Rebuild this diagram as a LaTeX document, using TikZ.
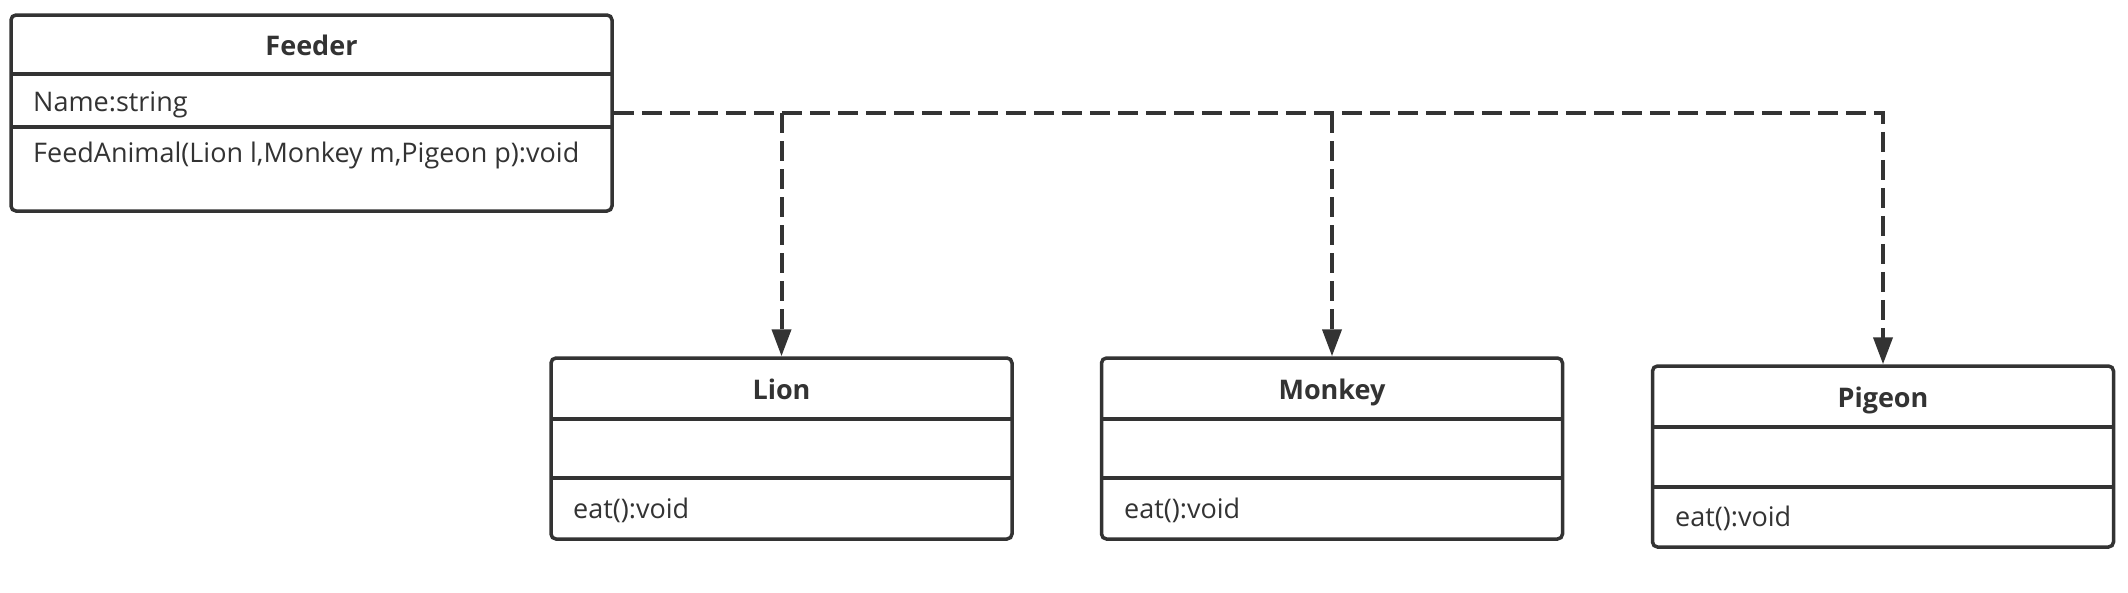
\documentclass[tikz,border=0pt]{standalone}
\usepackage{fontspec}
\setmainfont{Open Sans}
\usetikzlibrary{arrows.meta}
\definecolor{ink}{HTML}{333333}
\tikzset{
  classbox/.style={draw=ink, line width=3.5pt, rounded corners=5pt, fill=white, inner sep=0pt},
  divider/.style={draw=ink, line width=3.5pt},
  titletext/.style={text=ink, font=\fontsize{27}{31}\selectfont\bfseries, inner sep=0pt, anchor=base},
  membertext/.style={text=ink, font=\fontsize{27}{31}\selectfont, inner sep=0pt, anchor=base west},
  dep/.style={draw=ink, line width=4pt, dash pattern=on 20pt off 8pt, -{Triangle[length=27pt,width=19pt]}}
}
\begin{document}
\begin{tikzpicture}[x=1pt,y=-1pt]
\useasboundingbox (0,0) rectangle (2128,592);
% Feeder
\node[classbox, minimum width=601pt, minimum height=196pt] (feeder) at (311.5,113) {};
\draw[divider] (11,74) -- (612,74);
\draw[divider] (11,127) -- (612,127);
\node[titletext] (feedert) at (311.5,55) {Feeder};
\node[membertext] (feedera) at (33,111) {Name:string};
\node[membertext] (feederm) at (33,162) {FeedAnimal(Lion l,Monkey m,Pigeon p):void};
% Lion
\node[classbox, minimum width=461pt, minimum height=181pt] (lion) at (781.5,448.5) {};
\draw[divider] (551,419) -- (1012,419);
\draw[divider] (551,478) -- (1012,478);
\node[titletext] (liont) at (781.5,399) {Lion};
\node[membertext] (lionm) at (573,518) {eat():void};
% Monkey
\node[classbox, minimum width=461pt, minimum height=181pt] (monkey) at (1332,448.5) {};
\draw[divider] (1102,419) -- (1562,419);
\draw[divider] (1102,478) -- (1562,478);
\node[titletext] (monkeyt) at (1332,399) {Monkey};
\node[membertext] (monkeym) at (1124,518) {eat():void};
% Pigeon
\node[classbox, minimum width=461pt, minimum height=181pt] (pigeon) at (1883,456.5) {};
\draw[divider] (1653,427) -- (2113,427);
\draw[divider] (1653,487) -- (2113,487);
\node[titletext] (pigeont) at (1883,407) {Pigeon};
\node[membertext] (pigeonm) at (1675,526) {eat():void};
% connectors
\draw[dep] (feeder.east) -- (pigeon.north |- feeder.east) -- (pigeon.north);
\draw[dep] (lion.north |- feeder.east) -- (lion.north);
\draw[dep] (monkey.north |- feeder.east) -- (monkey.north);
\end{tikzpicture}
\end{document}
